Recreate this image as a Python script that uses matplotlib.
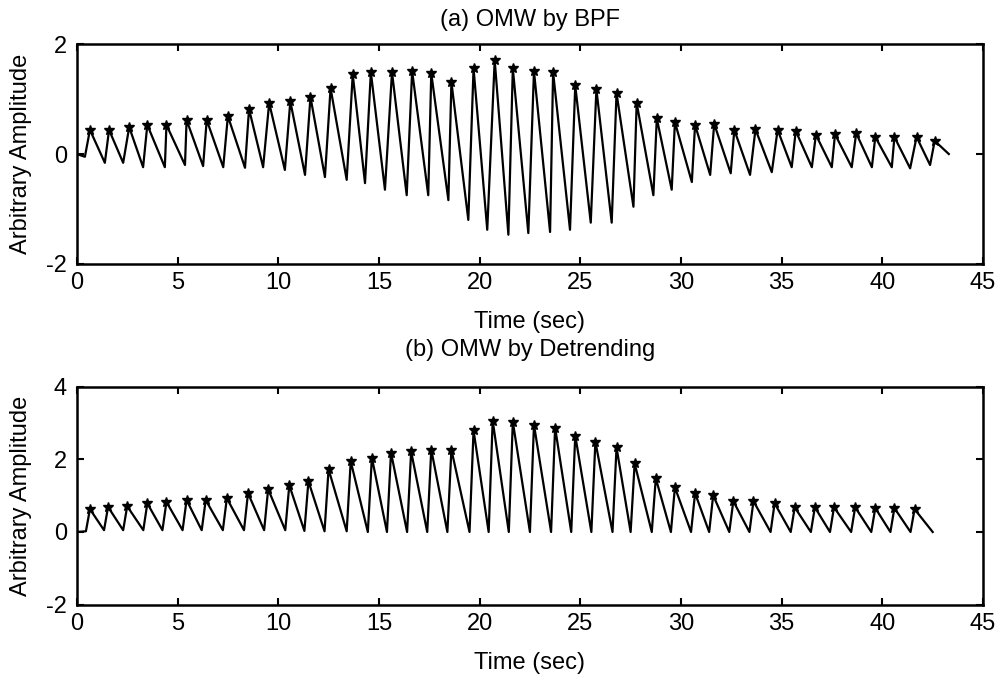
import matplotlib
matplotlib.use('Agg')
import matplotlib.pyplot as plt

plt.rcParams['font.family'] = ['Liberation Sans', 'DejaVu Sans']
plt.rcParams['axes.unicode_minus'] = False

# (a) OMW by BPF: peak times / values and the trough just before each peak
bpf_peak_t = [0.65, 1.6, 2.6, 3.5, 4.45, 5.45, 6.45, 7.5, 8.55, 9.55, 10.6, 11.6,
              12.6, 13.7, 14.6, 15.65, 16.65, 17.6, 18.6, 19.7, 20.75, 21.65, 22.7,
              23.65, 24.75, 25.8, 26.8, 27.8, 28.8, 29.7, 30.7, 31.65, 32.65, 33.7,
              34.8, 35.7, 36.7, 37.65, 38.7, 39.65, 40.6, 41.7, 42.6]
bpf_peak_v = [0.44, 0.44, 0.49, 0.53, 0.53, 0.62, 0.62, 0.69, 0.82, 0.93, 0.96, 1.04,
              1.2, 1.45, 1.49, 1.49, 1.51, 1.47, 1.31, 1.56, 1.71, 1.56, 1.51,
              1.49, 1.25, 1.18, 1.11, 0.93, 0.65, 0.58, 0.53, 0.55, 0.44, 0.45,
              0.44, 0.42, 0.35, 0.36, 0.38, 0.31, 0.31, 0.31, 0.24]
bpf_trough_t = [0.4, 1.39, 2.3, 3.29, 4.37, 5.37, 6.27, 7.27, 8.35, 9.25, 10.33, 11.33,
                12.32, 13.4, 14.31, 15.3, 16.38, 17.45, 18.45, 19.44, 20.38, 21.43, 22.42,
                23.5, 24.49, 25.52, 26.56, 27.64, 28.63, 29.54, 30.54, 31.45, 32.47, 33.43,
                34.51, 35.5, 36.5, 37.49, 38.48, 39.48, 40.47, 41.38, 42.37]
bpf_trough_v = [-0.05, -0.16, -0.16, -0.24, -0.24, -0.2, -0.22, -0.24, -0.25, -0.24, -0.29, -0.38,
                -0.42, -0.47, -0.53, -0.65, -0.75, -0.75, -0.84, -1.2, -1.38, -1.47, -1.44,
                -1.42, -1.38, -1.25, -1.25, -0.96, -0.75, -0.65, -0.51, -0.38, -0.35, -0.38,
                -0.33, -0.24, -0.24, -0.24, -0.24, -0.24, -0.24, -0.26, -0.2]
bpf_start = (0.0, 0.0)
bpf_end = (43.3, 0.0)

# (b) OMW by Detrending
det_peak_t = [0.65, 1.55, 2.5, 3.5, 4.45, 5.45, 6.4, 7.45, 8.5, 9.5, 10.55, 11.5,
              12.5, 13.6, 14.65, 15.6, 16.6, 17.6, 18.6, 19.7, 20.65, 21.65, 22.7,
              23.75, 24.75, 25.75, 26.8, 27.7, 28.75, 29.7, 30.7, 31.6, 32.6, 33.6,
              34.65, 35.65, 36.65, 37.6, 38.65, 39.65, 40.6, 41.6]
det_peak_v = [0.63, 0.69, 0.71, 0.79, 0.83, 0.88, 0.88, 0.93, 1.07, 1.18, 1.29, 1.4,
              1.73, 1.95, 2.05, 2.19, 2.22, 2.27, 2.27, 2.8, 3.07, 3.04, 2.96,
              2.88, 2.66, 2.49, 2.33, 1.89, 1.48, 1.23, 1.07, 1.01, 0.85, 0.85,
              0.79, 0.68, 0.68, 0.68, 0.68, 0.66, 0.66, 0.63]
det_trough_t = [0.45, 1.35, 2.3, 3.3, 4.25, 5.25, 6.2, 7.25, 8.3, 9.3, 10.35, 11.3,
                12.3, 13.4, 14.45, 15.4, 16.4, 17.4, 18.4, 19.5, 20.45, 21.45, 22.5,
                23.55, 24.55, 25.55, 26.6, 27.5, 28.55, 29.5, 30.5, 31.4, 32.4, 33.4,
                34.45, 35.45, 36.45, 37.4, 38.45, 39.45, 40.4, 41.4]
det_trough_v = [0.02, 0.05, 0.05, 0.05, 0.05, 0.05, 0.05, 0.05, 0.05, 0.05, 0.05, 0.03,
                0.02, 0.02, 0.0, 0.0, 0.0, 0.0, 0.0, 0.0, 0.0, 0.0, 0.0,
                0.0, 0.0, 0.0, 0.0, 0.0, 0.0, 0.0, 0.0, 0.0, 0.0, 0.0,
                0.0, 0.0, 0.0, 0.0, 0.0, 0.0, 0.0, 0.0]
det_start = (0.0, 0.0)
det_end = (42.5, 0.0)


def trace(start, tt, tv, pt, pv, end):
    xs, ys = [start[0]], [start[1]]
    for a, b, c, d in zip(tt, tv, pt, pv):
        xs += [a, c]
        ys += [b, d]
    xs.append(end[0])
    ys.append(end[1])
    return xs, ys


def style(ax, title, yticks, tpad):
    ax.set_xlim(0, 45)
    ax.set_xticks(range(0, 46, 5))
    ax.set_yticks(yticks)
    ax.set_ylim(yticks[0], yticks[-1])
    ax.tick_params(direction='in', top=True, right=True, length=5, width=1.5,
                   labelsize=17)
    ax.tick_params(axis='x', pad=6)
    ax.tick_params(axis='y', pad=7)
    for s in ax.spines.values():
        s.set_linewidth(1.8)
    ax.set_title(title, fontsize=17, pad=tpad)
    ax.set_xlabel('Time (sec)', fontsize=17, labelpad=12)
    ax.set_ylabel('Arbitrary Amplitude', fontsize=17, labelpad=10)


fig = plt.figure(figsize=(9.98, 6.8), dpi=100)
ax1 = fig.add_axes([0.077, 0.612, 0.908, 0.323])
ax2 = fig.add_axes([0.077, 0.111, 0.908, 0.320])

x, y = trace(bpf_start, bpf_trough_t, bpf_trough_v, bpf_peak_t, bpf_peak_v, bpf_end)
ax1.plot(x, y, color='black', lw=1.6)
ax1.plot(bpf_peak_t, bpf_peak_v, '*', color='black', ms=7)
style(ax1, '(a) OMW by BPF', [-2, 0, 2], 13)

x, y = trace(det_start, det_trough_t, det_trough_v, det_peak_t, det_peak_v, det_end)
ax2.plot(x, y, color='black', lw=1.6)
ax2.plot(det_peak_t, det_peak_v, '*', color='black', ms=7)
style(ax2, '(b) OMW by Detrending', [-2, 0, 2, 4], 22)

fig.savefig('out.png', dpi=100)
